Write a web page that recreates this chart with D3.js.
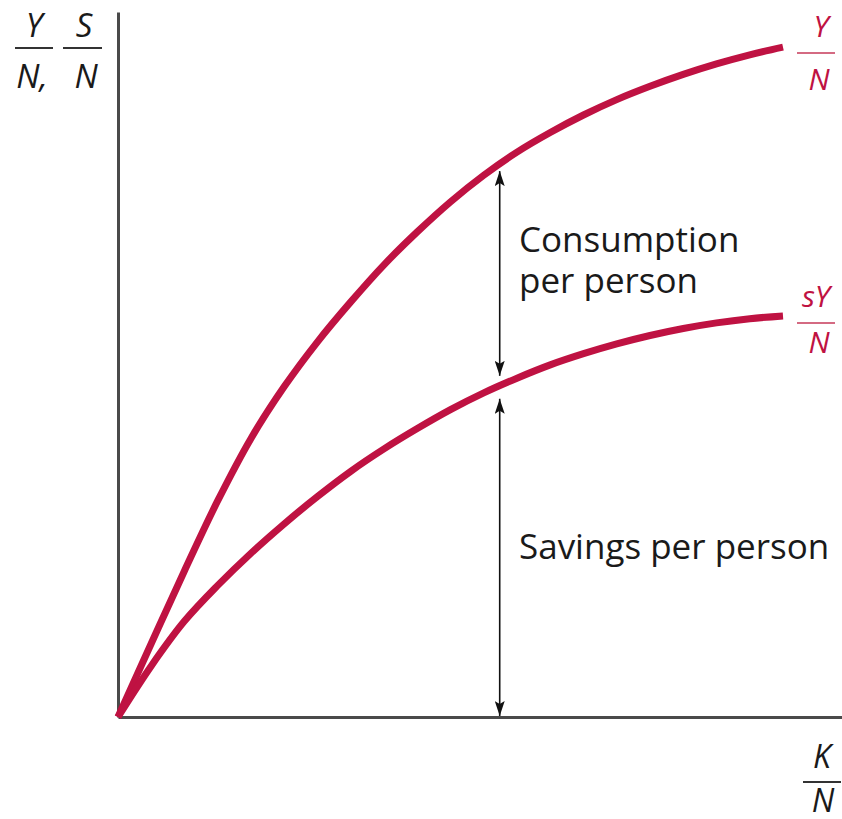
<!DOCTYPE html>
<html>
<head>
<meta charset="utf-8">
<script src="https://cdn.jsdelivr.net/npm/d3@7"></script>
<style>
  html, body { margin: 0; padding: 0; background: #fff; }
  svg { display: block; }
</style>
</head>
<body>
<svg id="chart" width="842" height="819"></svg>
<script>
// ---- data ----
const kValues = [0, 0.5, 1, 1.5, 2, 2.5, 3, 3.5, 4, 4.5, 5, 5.5, 6, 6.5, 7, 7.5, 8, 8.5, 9, 9.5, 10];
const outputPerPerson = [0, 1.05, 2.09, 3.09, 3.98, 4.72, 5.36, 5.93, 6.46, 6.93, 7.36, 7.74, 8.07, 8.35, 8.60, 8.82, 9.01, 9.18, 9.33, 9.46, 9.57];
const savingsPerPerson = [0, 0.73, 1.37, 1.88, 2.34, 2.76, 3.15, 3.51, 3.83, 4.12, 4.39, 4.63, 4.84, 5.03, 5.19, 5.33, 5.45, 5.55, 5.63, 5.69, 5.73];
const arrowK = 5.74;
const curveLabels = [["Y", "N"], ["sY", "N"]];
const yAxisLabel = [["Y", "N,"], ["S", "N"]];
const xAxisLabel = ["K", "N"];
const annotations = [["Consumption", "per person"], ["Savings per person"]];

// ---- setup ----
const W = 842, H = 819;
const red = "#bf1242";
const axisColor = "#4a4a4a";
const font = "'Open Sans', 'DejaVu Sans', sans-serif";
const svg = d3.select("#chart");
svg.append("rect").attr("width", W).attr("height", H).attr("fill", "#fff");

const x = d3.scaleLinear().domain([0, 10]).range([118, 783]);
const y = d3.scaleLinear().domain([0, 10]).range([717, 17]);

// axes (lines only, no ticks)
const xAxisScale = x.copy().domain([0, x.invert(W)]).range([x(0), W]);
const yAxisScale = y.copy().domain([0, y.invert(12)]).range([y(0), 12]);
const gx = svg.append("g").attr("transform", `translate(0,${y(0)})`)
  .call(d3.axisBottom(xAxisScale).ticks(0).tickSize(0).tickSizeOuter(0));
const gy = svg.append("g").attr("transform", `translate(${x(0)},0)`)
  .call(d3.axisLeft(yAxisScale).ticks(0).tickSize(0).tickSizeOuter(0));
[gx, gy].forEach(g => g.select(".domain").attr("stroke", axisColor).attr("stroke-width", 3));

// curves
const line = d3.line().x(d => x(d[0])).y(d => y(d[1])).curve(d3.curveCatmullRom.alpha(0.5));
const topData = kValues.map((k, i) => [k, outputPerPerson[i]]);
const lowData = kValues.map((k, i) => [k, savingsPerPerson[i]]);
[topData, lowData].forEach(data => {
  svg.append("path").datum(data).attr("d", line)
    .attr("fill", "none").attr("stroke", red).attr("stroke-width", 7)
    .attr("stroke-linecap", "butt").attr("stroke-linejoin", "round");
});

// arrows
const defs = svg.append("defs");
defs.append("marker").attr("id", "head")
  .attr("viewBox", "0 0 15 10").attr("refX", 15).attr("refY", 5)
  .attr("markerWidth", 15).attr("markerHeight", 10)
  .attr("markerUnits", "userSpaceOnUse").attr("orient", "auto-start-reverse")
  .append("path").attr("d", "M0,0 L15,5 L0,10 L3,5 Z").attr("fill", "#111");

const topAt = d3.scaleLinear().domain(kValues).range(outputPerPerson);
const lowAt = d3.scaleLinear().domain(kValues).range(savingsPerPerson);
const ax = x(arrowK);
const yTop = y(topAt(arrowK)), yLow = y(lowAt(arrowK));
const arrows = [[yTop + 7, yLow - 10], [yLow + 13, y(0) - 1]];
arrows.forEach(([y1, y2]) => {
  svg.append("line").attr("x1", ax).attr("x2", ax).attr("y1", y1).attr("y2", y2)
    .attr("stroke", "#111").attr("stroke-width", 1.6)
    .attr("marker-start", "url(#head)").attr("marker-end", "url(#head)");
});

// annotation text
const annot = svg.append("g").attr("font-family", font).attr("fill", "#1a1a1a")
  .attr("font-size", 35);
annot.append("text").attr("x", 519).attr("y", 252).text(annotations[0][0]);
annot.append("text").attr("x", 519).attr("y", 293).text(annotations[0][1]);
annot.append("text").attr("x", 519).attr("y", 559).text(annotations[1][0]);

// fraction helper
function fraction(cx, numY, barY, denY, x1, x2, num, den, color, size, barColor, barW) {
  const g = svg.append("g").attr("font-family", font).attr("font-style", "italic")
    .attr("font-size", size).attr("fill", color).attr("text-anchor", "middle");
  g.append("text").attr("x", cx[0]).attr("y", numY).text(num);
  g.append("line").attr("x1", x1).attr("x2", x2).attr("y1", barY).attr("y2", barY)
    .attr("stroke", barColor).attr("stroke-width", barW);
  g.append("text").attr("x", cx[1]).attr("y", denY).text(den);
}

// y axis label: Y/N, S/N
fraction([34, 32], 37, 48, 88, 15, 53, yAxisLabel[0][0], yAxisLabel[0][1], "#1a1a1a", 33, "#333", 2);
fraction([84, 86], 37, 48, 88, 63, 102, yAxisLabel[1][0], yAxisLabel[1][1], "#1a1a1a", 33, "#333", 2);
// curve labels
fraction([821, 819], 37, 53, 90, 797, 835, curveLabels[0][0], curveLabels[0][1], red, 30, "#d46a82", 2);
fraction([816, 819], 307, 323, 353, 797, 835, curveLabels[1][0], curveLabels[1][1], red, 30, "#d46a82", 2);
// x axis label
fraction([822, 823], 768, 782, 812, 803, 841, xAxisLabel[0], xAxisLabel[1], "#1a1a1a", 32, "#333", 2);
</script>
</body>
</html>
